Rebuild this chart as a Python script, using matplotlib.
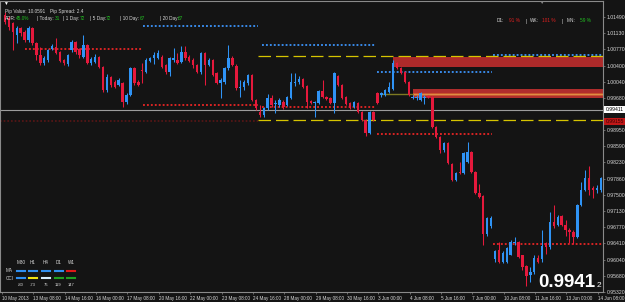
import matplotlib
matplotlib.use("Agg")
import matplotlib.pyplot as plt
from matplotlib.transforms import blended_transform_factory

# ---------------- data (EURCHF-like H4 candles) ----------------
opens = [1.0153, 1.0147, 1.0135, 1.0109, 1.0124, 1.0115, 1.0097, 1.0124, 1.0091, 1.0064,
         1.0046, 1.0053, 1.0077, 1.0082, 1.0071, 1.0053, 1.0044, 1.0075, 1.0093, 1.0077,
         1.0059, 1.0086, 1.0046, 1.0048, 1.0059, 1.0037, 0.9985, 1.0015, 1.0003, 0.9997,
         1.0001, 0.9959, 0.9974, 1.0035, 1.0003, 1.0030, 1.0026, 1.0050, 1.0057, 1.0057,
         1.0059, 1.0041, 1.0026, 1.0053, 1.0053, 1.0048, 1.0071, 1.0059, 1.0053, 1.0041,
         1.0026, 1.0068, 1.0041, 1.0053, 1.0023, 1.0001, 1.0003, 1.0035, 1.0057, 1.0039,
         0.9990, 0.9992, 1.0001, 1.0019, 0.9963, 0.9936, 0.9929, 0.9945, 0.9967, 0.9954,
         0.9952, 0.9959, 0.9952, 0.9967, 1.0001, 1.0003, 1.0010, 0.9994, 0.9961, 0.9956,
         0.9956, 0.9983, 0.9970, 0.9967, 0.9956, 1.0017, 0.9997, 0.9970, 0.9956, 0.9947,
         0.9956, 0.9936, 0.9918, 0.9889, 0.9936, 0.9979, 0.9974, 0.9974, 0.9981, 0.9988,
         1.0046, 1.0035, 1.0026, 1.0003, 0.9967, 0.9967, 0.9963, 0.9967, 0.9972, 0.9970,
         0.9903, 0.9880, 0.9851, 0.9867, 0.9820, 0.9784, 0.9802, 0.9799, 0.9824, 0.9847,
         0.9802, 0.9755, 0.9748, 0.9661, 0.9679, 0.9605, 0.9627, 0.9600, 0.9600, 0.9616,
         0.9643, 0.9645, 0.9614, 0.9591, 0.9571, 0.9576, 0.9609, 0.9605, 0.9643, 0.9634,
         0.9690, 0.9683, 0.9703, 0.9683, 0.9672, 0.9667, 0.9656, 0.9728, 0.9761, 0.9788,
         0.9766, 0.9761, 0.9761]
highs = [1.0160, 1.0151, 1.0138, 1.0129, 1.0127, 1.0120, 1.0129, 1.0127, 1.0093, 1.0082,
         1.0062, 1.0077, 1.0088, 1.0102, 1.0073, 1.0055, 1.0066, 1.0097, 1.0095, 1.0079,
         1.0109, 1.0088, 1.0059, 1.0066, 1.0062, 1.0039, 1.0021, 1.0017, 1.0008, 1.0012,
         1.0003, 0.9979, 1.0037, 1.0037, 1.0008, 1.0046, 1.0057, 1.0059, 1.0071, 1.0075,
         1.0064, 1.0044, 1.0059, 1.0079, 1.0068, 1.0084, 1.0084, 1.0064, 1.0057, 1.0044,
         1.0071, 1.0071, 1.0057, 1.0055, 1.0026, 1.0012, 1.0037, 1.0086, 1.0062, 1.0044,
         1.0008, 1.0008, 1.0021, 1.0021, 0.9965, 0.9952, 0.9947, 0.9976, 0.9974, 0.9963,
         0.9967, 0.9963, 0.9972, 1.0023, 1.0023, 1.0017, 1.0012, 0.9997, 0.9963, 0.9961,
         0.9985, 1.0008, 0.9972, 0.9970, 1.0026, 1.0019, 0.9999, 0.9972, 0.9959, 0.9961,
         0.9959, 0.9938, 0.9920, 0.9938, 0.9938, 0.9981, 0.9981, 0.9988, 1.0003, 1.0053,
         1.0048, 1.0037, 1.0028, 1.0006, 0.9974, 0.9974, 0.9981, 0.9974, 0.9974, 0.9972,
         0.9905, 0.9882, 0.9869, 0.9869, 0.9822, 0.9802, 0.9824, 0.9847, 0.9869, 0.9849,
         0.9804, 0.9775, 0.9750, 0.9701, 0.9703, 0.9627, 0.9645, 0.9623, 0.9634, 0.9649,
         0.9656, 0.9647, 0.9616, 0.9593, 0.9587, 0.9614, 0.9616, 0.9672, 0.9645, 0.9712,
         0.9728, 0.9705, 0.9705, 0.9694, 0.9676, 0.9672, 0.9730, 0.9779, 0.9806, 0.9815,
         0.9770, 0.9772, 0.9790]
lows = [1.0133, 1.0120, 1.0075, 1.0091, 1.0106, 1.0093, 1.0093, 1.0086, 1.0053, 1.0041,
        1.0041, 1.0048, 1.0075, 1.0066, 1.0048, 1.0041, 1.0039, 1.0071, 1.0066, 1.0057,
        1.0057, 1.0044, 1.0041, 1.0046, 1.0035, 0.9981, 0.9981, 0.9992, 0.9990, 0.9994,
        0.9947, 0.9954, 0.9972, 0.9997, 0.9994, 1.0001, 1.0023, 1.0048, 1.0044, 1.0055,
        1.0035, 1.0021, 1.0017, 1.0048, 1.0044, 1.0046, 1.0053, 1.0048, 1.0035, 1.0023,
        1.0021, 0.9997, 1.0039, 1.0017, 0.9999, 0.9967, 0.9999, 1.0030, 1.0039, 0.9985,
        0.9970, 0.9985, 0.9997, 0.9961, 0.9941, 0.9925, 0.9925, 0.9941, 0.9947, 0.9934,
        0.9947, 0.9943, 0.9950, 0.9965, 0.9994, 0.9999, 0.9990, 0.9945, 0.9954, 0.9925,
        0.9954, 0.9967, 0.9963, 0.9954, 0.9934, 0.9994, 0.9965, 0.9952, 0.9943, 0.9945,
        0.9934, 0.9916, 0.9882, 0.9887, 0.9916, 0.9954, 0.9970, 0.9972, 0.9979, 0.9985,
        1.0032, 1.0021, 1.0001, 0.9972, 0.9965, 0.9963, 0.9961, 0.9954, 0.9967, 0.9900,
        0.9878, 0.9844, 0.9847, 0.9820, 0.9782, 0.9782, 0.9797, 0.9797, 0.9822, 0.9799,
        0.9752, 0.9743, 0.9638, 0.9658, 0.9676, 0.9600, 0.9598, 0.9598, 0.9598, 0.9614,
        0.9638, 0.9609, 0.9582, 0.9546, 0.9555, 0.9573, 0.9596, 0.9600, 0.9618, 0.9629,
        0.9676, 0.9681, 0.9681, 0.9658, 0.9643, 0.9640, 0.9654, 0.9726, 0.9759, 0.9750,
        0.9743, 0.9755, 0.9757]
closes = [1.0138, 1.0127, 1.0115, 1.0124, 1.0113, 1.0097, 1.0124, 1.0091, 1.0064, 1.0046,
          1.0057, 1.0075, 1.0084, 1.0068, 1.0050, 1.0046, 1.0064, 1.0093, 1.0071, 1.0064,
          1.0086, 1.0046, 1.0055, 1.0059, 1.0037, 0.9985, 1.0015, 0.9997, 0.9992, 1.0008,
          0.9959, 0.9974, 1.0035, 1.0001, 0.9997, 1.0028, 1.0053, 1.0057, 1.0064, 1.0068,
          1.0037, 1.0026, 1.0057, 1.0057, 1.0046, 1.0071, 1.0057, 1.0050, 1.0041, 1.0026,
          1.0068, 1.0041, 1.0053, 1.0019, 1.0001, 1.0008, 1.0035, 1.0057, 1.0041, 0.9990,
          0.9992, 1.0003, 1.0019, 0.9963, 0.9945, 0.9929, 0.9945, 0.9967, 0.9952, 0.9956,
          0.9963, 0.9947, 0.9970, 1.0003, 1.0003, 1.0010, 0.9992, 0.9959, 0.9956, 0.9959,
          0.9983, 0.9970, 0.9965, 0.9956, 1.0023, 0.9997, 0.9967, 0.9954, 0.9945, 0.9959,
          0.9936, 0.9918, 0.9889, 0.9936, 0.9918, 0.9956, 0.9979, 0.9985, 0.9992, 1.0046,
          1.0035, 1.0023, 1.0003, 0.9974, 0.9970, 0.9970, 0.9979, 0.9970, 0.9970, 0.9903,
          0.9880, 0.9851, 0.9867, 0.9822, 0.9784, 0.9799, 0.9799, 0.9844, 0.9847, 0.9802,
          0.9755, 0.9746, 0.9661, 0.9699, 0.9699, 0.9625, 0.9600, 0.9620, 0.9631, 0.9645,
          0.9645, 0.9611, 0.9589, 0.9569, 0.9576, 0.9609, 0.9600, 0.9636, 0.9634, 0.9690,
          0.9679, 0.9701, 0.9683, 0.9672, 0.9667, 0.9656, 0.9728, 0.9761, 0.9788, 0.9761,
          0.9761, 0.9766, 0.9788]

date_labels = ["10 May 2013", "13 May 08:00", "14 May 16:00", "16 May 00:00", "17 May 08:00",
               "20 May 16:00", "22 May 00:00", "23 May 08:00", "24 May 16:00", "28 May 00:00",
               "29 May 08:00", "30 May 16:00", "3 Jun 00:00", "4 Jun 08:00", "5 Jun 16:00",
               "7 Jun 00:00", "10 Jun 08:00", "11 Jun 16:00", "13 Jun 00:00", "14 Jun 08:00"]
price_ticks = [1.01490, 1.01130, 1.00770, 1.00400, 1.00040, 0.99680, 0.98950, 0.98590,
               0.98230, 0.97860, 0.97500, 0.97130, 0.96770, 0.96410, 0.96040, 0.95680, 0.95320]

current_price = 0.99411
marker_price = 0.99155

# weekly levels: (start bar, end bar, price)
week_highs = [(35.2, 64.5, 1.0129), (65.6, 94.4, 1.0086), (94.9, 124.3, 1.0026), (124.5, 152.6, 1.0064)]
week_lows = [(5.0, 35.0, 1.0077), (35.2, 64.5, 0.9952), (65.6, 94.4, 0.9947), (94.9, 124.3, 0.9886), (124.5, 152.6, 0.9640)]
prev_low_line = (-1.3, 64.5, 0.9916)
yellow_levels = [1.0062, 0.9918]
yellow_start = 64.5
zone_upper = (99.0, 1.00376, 1.0060)
zone_lower = (104.1, 0.99668, 0.9987)
zone_lower_core = (0.99726, 0.99794)
zone_lower_line = 0.9976
olive_line = (95.7, 104.1, 0.9976)

adr_parts = [("ADR:", "w", 5), ("45.0%", "g", 16), ("| Today:", "w", 37), ("31", "g", 55),
             ("| 1 Day:", "w", 63), ("72", "g", 80), ("| 5 Day:", "w", 90), ("72", "g", 106),
             ("| 10 Day:", "w", 120), ("67", "g", 140), ("| 20 Day:", "w", 160), ("67", "g", 178)]
pct_parts = [("D1:", "w", 497), ("91 %", "r", 509), ("|", "w", 526), ("WK:", "w", 530),
             ("101 %", "r", 542), ("|", "w", 562), ("MN:", "w", 567), ("59 %", "g", 580)]
tf_names = ["M30", "H1", "H4", "D1", "W1"]
ma_cols = ["#2f8ff0", "#2f8ff0", "#2f8ff0", "#2f8ff0", "#e01818"]
cci_cols = ["#2f8ff0", "#f0e010", "#d8eeff", "#20a020", "#20a020"]
cci_vals = ["-80", "-73", "76", "119", "147"]

# ---------------- drawing ----------------
W, H = 625, 302
BG = "#141414"
BLUE = "#2f93f5"
RED = "#e5193c"
GREEN = "#22c022"
TXT = "#d8d8d8"
plt.rcParams["font.family"] = ["Liberation Sans", "DejaVu Sans"]

fig = plt.figure(figsize=(W / 100, H / 100), dpi=100, facecolor=BG)
ax = fig.add_axes([0.0, (H - 292) / H, 603 / W, 291 / H], facecolor=BG)
ax.set_xlim(-1.28, 152.55)
ax.set_ylim(0.95329, 1.01848)

# zones
u0, ulo, uhi = zone_upper
ax.fill_between([u0, 160], ulo, uhi, color="#ad2a2a", lw=0, zorder=1)
l0, llo, lhi = zone_lower
ax.fill_between([l0, 160], llo, lhi, color="#b02d2d", lw=0, zorder=1)
ax.fill_between([l0, 160], zone_lower_core[0], zone_lower_core[1], color="#c9552e", lw=0, zorder=1)
ax.hlines(zone_lower_line, l0, 160, color="#e39a4a", lw=0.6, zorder=1)
ax.hlines(olive_line[2], olive_line[0], olive_line[1], color="#7d7a22", lw=1.0, zorder=1)

# level lines
for s, e, p in week_highs:
    ax.hlines(p, s, e, color="#3a8ef0", lw=1.35, linestyles=(0, (1, 1.1)), zorder=2)
for s, e, p in week_lows:
    ax.hlines(p, s, e, color="#e02424", lw=1.35, linestyles=(0, (1, 1.1)), zorder=2)
ax.hlines(prev_low_line[2], prev_low_line[0], prev_low_line[1], color="#5a1616", lw=1.2,
          linestyles=(0, (1, 1.2)), zorder=2)
for p in yellow_levels:
    ax.hlines(p, yellow_start, 160, color="#d6c400", lw=0.9, linestyles=(0, (10, 4)), zorder=2)
ax.axhline(current_price, color="#9c9c9c", lw=0.8, zorder=2)

# candles
idx = list(range(len(closes)))
cols = [BLUE if c >= o else RED for o, c in zip(opens, closes)]
ax.vlines(idx, lows, highs, colors=cols, lw=0.75, zorder=3)
bottoms = [min(o, c) for o, c in zip(opens, closes)]
heights = [max(abs(c - o), 0.00008) for o, c in zip(opens, closes)]
ax.bar(idx, heights, bottom=bottoms, width=0.62, color=cols, lw=0, zorder=4)

# axes styling
for side in ["top", "left", "right", "bottom"]:
    ax.spines[side].set_color("#8a8a8a")
    ax.spines[side].set_linewidth(0.8)
ax.yaxis.tick_right()
ax.set_yticks(price_ticks)
ax.set_yticklabels(["%.5f" % v for v in price_ticks], fontsize=3.7, color=TXT)
ax.tick_params(axis="y", length=1.6, width=0.5, color="#8a8a8a", pad=1.2)
xpos = [8 * k - 0.77 for k in range(len(date_labels))]
ax.set_xticks(xpos)
ax.set_xticklabels(date_labels, fontsize=3.3, color=TXT, ha="left")
ax.tick_params(axis="x", length=1.6, width=0.5, color="#8a8a8a", pad=1.4)

# price boxes on the axis
tr = blended_transform_factory(ax.transAxes, ax.transData)
ax.text(1.004, current_price, "%.5f" % current_price, transform=tr, fontsize=3.6, color="black",
        va="center", ha="left", clip_on=False, zorder=6,
        bbox=dict(boxstyle="square,pad=0.25", fc="white", ec="none"))
ax.text(1.004, marker_price - 0.0001, "%.5f" % marker_price, transform=tr, fontsize=3.6,
        color="#3a0000", va="center", ha="left", clip_on=False, zorder=5,
        bbox=dict(boxstyle="square,pad=0.25", fc="#c01818", ec="none"))


def ftxt(x, y, s, **kw):
    fig.text(x / W, 1 - y / H, s, **kw)


cmap = {"w": TXT, "g": GREEN, "r": "#e02020"}
ftxt(5, 11, "Pip Value: 10.0591", fontsize=3.4, color=TXT, va="center")
ftxt(50, 11, "Pip Spread: 2.4", fontsize=3.4, color=TXT, va="center")
for s, c, x in adr_parts:
    ftxt(x, 18.5, s, fontsize=3.4, color=cmap[c], va="center")
for s, c, x in pct_parts:
    ftxt(x, 21, s, fontsize=3.4, color=cmap[c], va="center")

# small markers at the top
fig.text(5.5 / W, 1 - 3 / H, "\u25BC", fontsize=3.5, color="white", ha="center", va="center")
fig.text(541 / W, 1 - 2.5 / H, "\u25BC", fontsize=3.2, color="#8a8a8a", ha="center", va="center")

# bottom-left indicator table
col_x = [21, 33, 46, 58.5, 71]
for name, x in zip(tf_names, col_x):
    ftxt(x, 263, name, fontsize=3.3, color=TXT, ha="center", va="center")
ftxt(6, 271, "MA", fontsize=3.3, color=TXT, va="center")
ftxt(6, 278, "CCI", fontsize=3.3, color=TXT, va="center")
for x, cm, cc, v in zip(col_x, ma_cols, cci_cols, cci_vals):
    fig.add_artist(plt.Line2D([(x - 4) / W, (x + 4) / W], [1 - 271 / H] * 2, color=cm, lw=1.5))
    fig.add_artist(plt.Line2D([(x - 4) / W, (x + 4) / W], [1 - 278 / H] * 2, color=cc, lw=1.5))
    ftxt(x, 284.5, v, fontsize=3.0, color=TXT, ha="center", va="center")

# big bid price
ftxt(595, 287, "0.9941", fontsize=13.5, color="white", fontweight="bold", ha="right", va="baseline")
ftxt(597, 287, "2", fontsize=6, color="white", ha="left", va="baseline")

fig.savefig("out.png", dpi=100, facecolor=BG)
